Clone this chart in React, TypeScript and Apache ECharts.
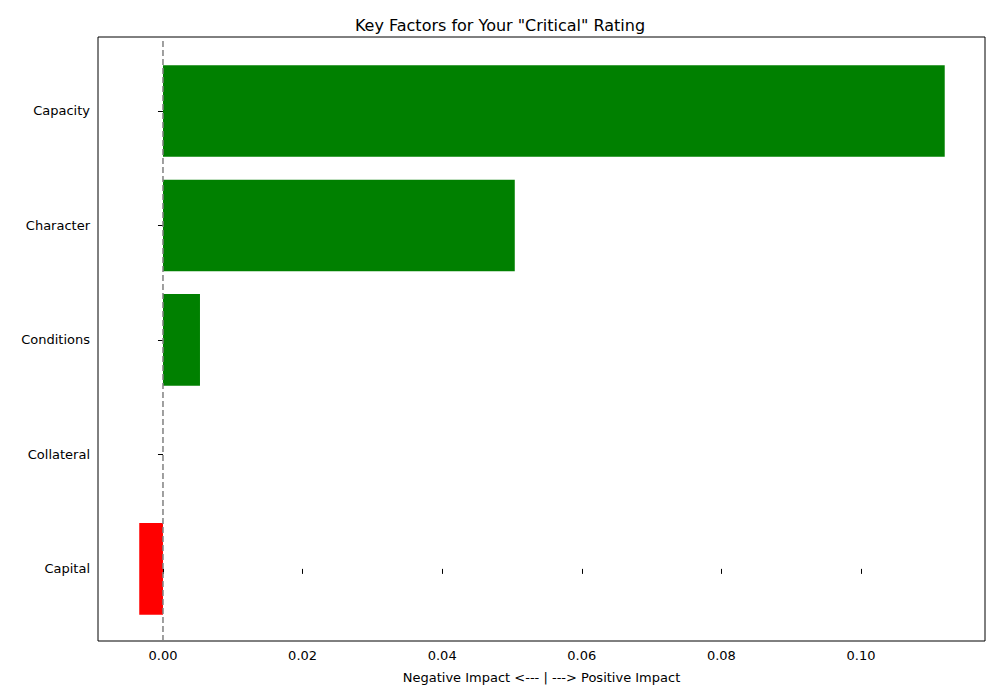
import { useEffect, useRef } from 'react';
import * as echarts from 'echarts';

const factors = ['Capital', 'Collateral', 'Conditions', 'Character', 'Capacity'];
const impacts = [-0.0034, 0, 0.0053, 0.0504, 0.112];
const xTicks = [0, 0.02, 0.04, 0.06, 0.08, 0.1];

export default function App() {
  const ref = useRef<HTMLDivElement>(null);

  useEffect(() => {
    document.body.style.margin = '0';
    if (!ref.current) return;
    const chart = echarts.init(ref.current, undefined, { renderer: 'svg' });
    const font = 'DejaVu Sans';

    chart.setOption({
      animation: false,
      textStyle: { fontFamily: font },
      title: {
        text: 'Key Factors for Your "Critical" Rating',
        left: 'center',
        top: 12,
        textStyle: { fontSize: 16, fontWeight: 'normal', color: '#000', fontFamily: font },
      },
      grid: {
        left: 98, right: 15, top: 37, bottom: 59,
        show: true, borderColor: '#000', borderWidth: 1,
      },
      xAxis: {
        type: 'value',
        min: -0.00931,
        max: 0.11777,
        name: 'Negative Impact <--- | ---> Positive Impact',
        nameLocation: 'middle',
        nameGap: 30,
        nameTextStyle: { fontSize: 13, color: '#000' },
        splitLine: { show: false },
        axisLine: { show: false },
        axisTick: { show: true, customValues: xTicks, length: 5, lineStyle: { color: '#000' } },
        axisLabel: {
          customValues: xTicks,
          fontSize: 13,
          color: '#000',
          formatter: (v: number) => v.toFixed(2),
        },
      },
      yAxis: {
        type: 'value',
        min: -0.63,
        max: 4.646,
        splitLine: { show: false },
        axisLine: { show: false },
        axisTick: { show: true, customValues: [0, 1, 2, 3, 4], length: 5, lineStyle: { color: '#000' } },
        axisLabel: {
          customValues: [0, 1, 2, 3, 4],
          fontSize: 13,
          color: '#000',
          formatter: (v: number) => factors[Math.round(v)] ?? '',
        },
      },
      series: [
        {
          type: 'custom',
          data: impacts.map((v, i) => [v, i]),
          renderItem: (params: any, api: any) => {
            const v = api.value(0);
            const i = api.value(1);
            const p1 = api.coord([0, i + 0.4]);
            const p2 = api.coord([v, i - 0.4]);
            return {
              type: 'rect',
              shape: {
                x: Math.min(p1[0], p2[0]),
                y: p1[1],
                width: Math.abs(p2[0] - p1[0]),
                height: p2[1] - p1[1],
              },
              style: { fill: v >= 0 ? '#008000' : '#ff0000' },
            };
          },
        },
        {
          type: 'line',
          data: [[0, -0.63], [0, 4.646]],
          symbol: 'none',
          lineStyle: { color: '#808080', type: [6, 3], width: 1.5 },
          z: 5,
        },
      ],
    });

    return () => chart.dispose();
  }, []);

  return <div ref={ref} style={{ width: 1000, height: 700 }} />;
}
